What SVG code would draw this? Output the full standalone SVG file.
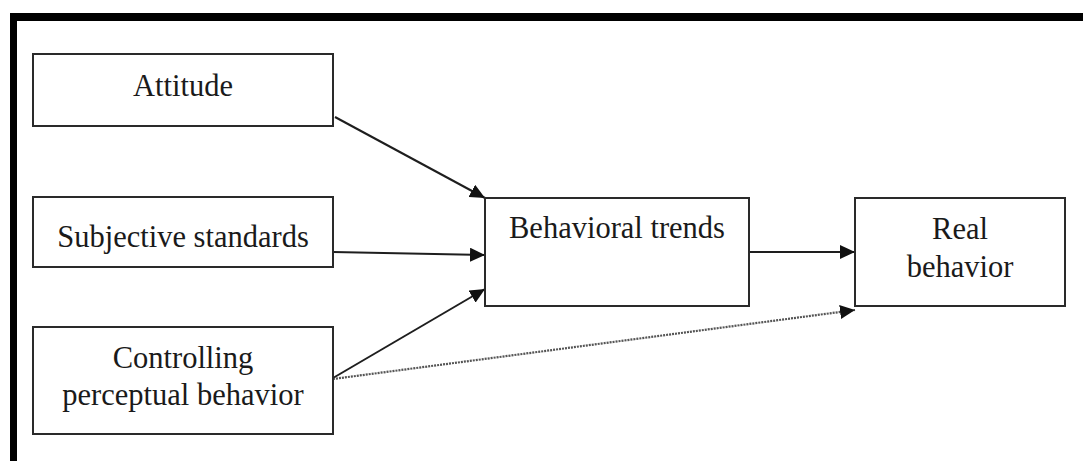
<svg xmlns="http://www.w3.org/2000/svg" width="1083" height="461" viewBox="0 0 1083 461">
  <style>
    .box { fill: #ffffff; stroke: #2a2a2a; stroke-width: 2; }
    .lbl { font-family: "Liberation Serif", "Times New Roman", serif; font-size: 30.5px; fill: #1a1a1a; text-anchor: middle; }
    .conn { stroke: #1e1e1e; stroke-width: 2; fill: none; }
    .dot { stroke: #555555; stroke-width: 2.2; stroke-dasharray: 2 1; fill: none; }
  </style>
  <defs>
    <marker id="arrow" markerUnits="userSpaceOnUse" markerWidth="16" markerHeight="14" refX="15" refY="7" orient="auto">
      <path d="M0,0 L15,7 L0,14 Z" fill="#111111"/>
    </marker>
  </defs>
  <rect x="0" y="0" width="1083" height="461" fill="#ffffff"/>
  <g id="frame">
    <rect x="10" y="13" width="1073" height="8" fill="#000000"/>
    <rect x="10" y="13" width="7" height="448" fill="#000000"/>
  </g>
  <g id="connectors">
    <line class="conn" x1="335" y1="117" x2="485" y2="198" marker-end="url(#arrow)"/>
    <line class="conn" x1="333" y1="252" x2="485" y2="255" marker-end="url(#arrow)"/>
    <line class="conn" x1="333" y1="378" x2="485" y2="289" marker-end="url(#arrow)"/>
    <line class="conn" x1="749" y1="252" x2="855" y2="252" marker-end="url(#arrow)"/>
    <line class="dot" x1="333" y1="379" x2="855" y2="310" marker-end="url(#arrow)"/>
  </g>
  <g id="attitude">
    <rect class="box" x="33" y="54" width="300" height="72"/>
    <text class="lbl" x="183" y="96">Attitude</text>
  </g>
  <g id="subjective-standards">
    <rect class="box" x="33" y="197" width="300" height="70"/>
    <text class="lbl" x="183" y="247">Subjective standards</text>
  </g>
  <g id="controlling-perceptual-behavior">
    <rect class="box" x="33" y="327" width="300" height="107"/>
    <text class="lbl" x="183" y="368">Controlling</text>
    <text class="lbl" x="183" y="405">perceptual behavior</text>
  </g>
  <g id="behavioral-trends">
    <rect class="box" x="485" y="198" width="264" height="108"/>
    <text class="lbl" x="617" y="238">Behavioral trends</text>
  </g>
  <g id="real-behavior">
    <rect class="box" x="855" y="198" width="210" height="108"/>
    <text class="lbl" x="960" y="239">Real</text>
    <text class="lbl" x="960" y="277">behavior</text>
  </g>
</svg>
